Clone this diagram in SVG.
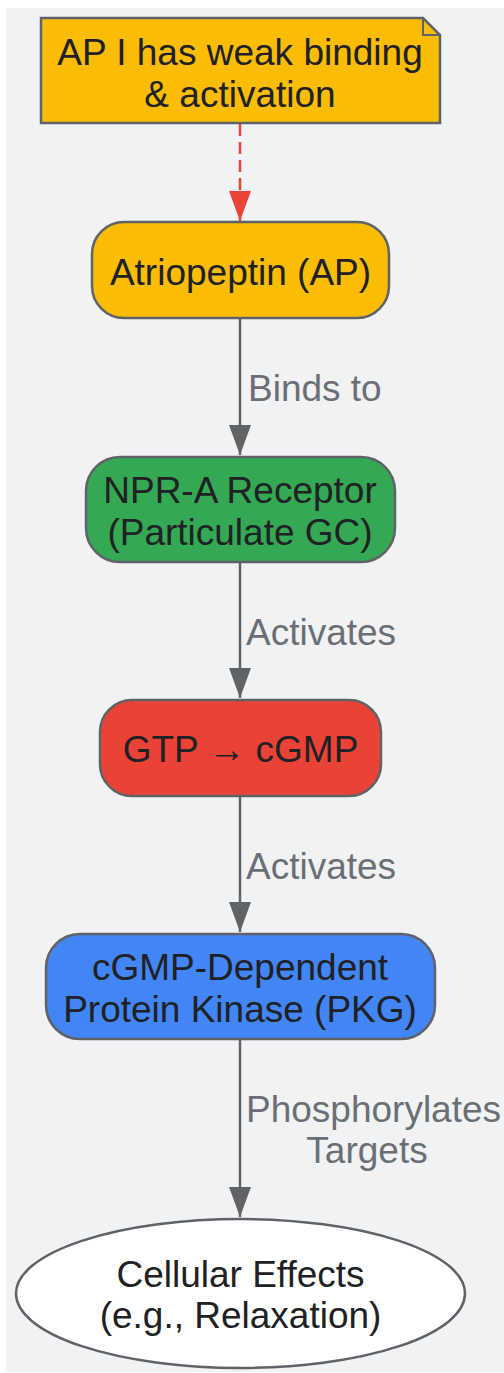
<svg xmlns="http://www.w3.org/2000/svg" width="504" height="1373" viewBox="0 0 504 1373">
<style>
.lbl{font-family:"Liberation Sans",Arial,sans-serif;font-size:37px;fill:#202124;text-anchor:middle}
.elbl{font-family:"Liberation Sans",Arial,sans-serif;font-size:37px;fill:#6b6e75}
.box{stroke:#5f6368;stroke-width:2.5}
.edge{stroke:#5f6368;stroke-width:2.5;fill:none}
</style>
<defs>
<marker id="ahr" viewBox="0 0 30 22" refX="30" refY="11" markerWidth="30" markerHeight="22" markerUnits="userSpaceOnUse" orient="auto">
<path d="M0,0 L30,11 L0,22 Z" fill="#ea4335"/>
</marker>
<marker id="ahg" viewBox="0 0 30 22" refX="30" refY="11" markerWidth="30" markerHeight="22" markerUnits="userSpaceOnUse" orient="auto">
<path d="M0,0 L30,11 L0,22 Z" fill="#5f6368"/>
</marker>
</defs>
<rect x="6" y="8" width="498" height="1364" fill="#f1f2f4"/>
<g id="connectors">
<path d="M240,124 L240,221" stroke="#ea4335" stroke-width="2.5" stroke-dasharray="12,6" fill="none" marker-end="url(#ahr)"/>
<path class="edge" d="M240,318 L240,455" marker-end="url(#ahg)"/>
<path class="edge" d="M240,562 L240,698" marker-end="url(#ahg)"/>
<path class="edge" d="M240,797 L240,932" marker-end="url(#ahg)"/>
<path class="edge" d="M240,1039 L240,1217" marker-end="url(#ahg)"/>
<text class="elbl" x="248" y="401">Binds to</text>
<text class="elbl" x="246" y="645">Activates</text>
<text class="elbl" x="246" y="879">Activates</text>
<text class="elbl" x="246" y="1122">Phosphorylates</text>
<text class="elbl" x="367" y="1163" text-anchor="middle">Targets</text>
</g>
<g id="note">
<path class="box" d="M41,18 L423,18 L440,35 L440,123 L41,123 Z" fill="#fbbc04"/>
<path d="M423,18 L423,35 L440,35" fill="none" stroke="#5f6368" stroke-width="2"/>
<text class="lbl" x="240" y="65">AP I has weak binding</text>
<text class="lbl" x="240" y="107">&amp; activation</text>
</g>
<g id="ap">
<rect class="box" x="92" y="222" width="297" height="96" rx="32" fill="#fbbc04"/>
<text class="lbl" x="240.5" y="285">Atriopeptin (AP)</text>
</g>
<g id="npr">
<rect class="box" x="86" y="457" width="309" height="105" rx="34" fill="#34a853"/>
<text class="lbl" x="240" y="503">NPR-A Receptor</text>
<text class="lbl" x="240" y="545">(Particulate GC)</text>
</g>
<g id="gtp">
<rect class="box" x="100" y="700" width="281" height="96" rx="32" fill="#ea4335"/>
<text class="lbl" x="240.5" y="762">GTP → cGMP</text>
</g>
<g id="pkg">
<rect class="box" x="46" y="934" width="389" height="105" rx="34" fill="#4285f4"/>
<text class="lbl" x="240" y="980">cGMP-Dependent</text>
<text class="lbl" x="240" y="1022">Protein Kinase (PKG)</text>
</g>
<g id="effects">
<ellipse class="box" cx="240.5" cy="1293.5" rx="224.5" ry="74.5" fill="#ffffff"/>
<text class="lbl" x="240.5" y="1287">Cellular Effects</text>
<text class="lbl" x="240.5" y="1328">(e.g., Relaxation)</text>
</g>
</svg>
